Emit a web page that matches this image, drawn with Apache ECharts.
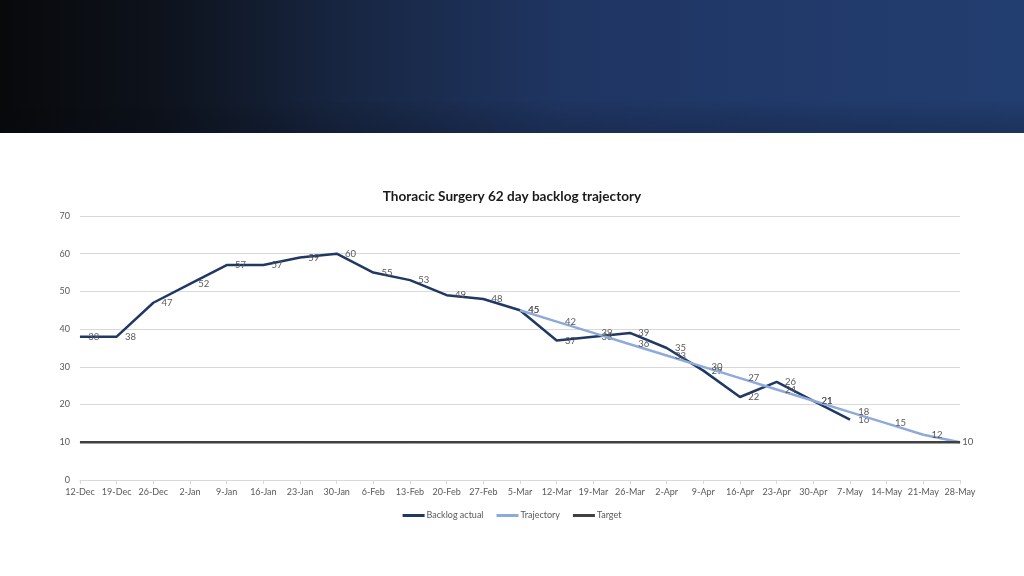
<!DOCTYPE html>
<html>
<head>
<meta charset="utf-8">
<script src="https://cdn.jsdelivr.net/npm/echarts@6/dist/echarts.min.js"></script>
<style>
html,body{margin:0;padding:0;background:#fff;}
#c{width:1024px;height:576px;}
</style>
</head>
<body>
<div id="c"></div>
<script>
const categories = ['12-Dec','19-Dec','26-Dec','2-Jan','9-Jan','16-Jan','23-Jan','30-Jan','6-Feb','13-Feb','20-Feb','27-Feb','5-Mar','12-Mar','19-Mar','26-Mar','2-Apr','9-Apr','16-Apr','23-Apr','30-Apr','7-May','14-May','21-May','28-May'];
const backlogActual = [38,38,47,52,57,57,59,60,55,53,49,48,45,37,38,39,35,29,22,26,21,16,null,null,null];
const trajectory = [null,null,null,null,null,null,null,null,null,null,null,null,45,42,39,36,33,30,27,24,21,18,15,12,10];
const target = [10,10,10,10,10,10,10,10,10,10,10,10,10,10,10,10,10,10,10,10,10,10,10,10,10];

const chart = echarts.init(document.getElementById('c'));
const font = 'Lato, "Open Sans", sans-serif';
const lbl = {show:true, position:'right', distance:8, fontSize:9.5, color:'#595959', fontFamily:font};
const lastIdx = target.length - 1;
chart.setOption({
  animation:false,
  backgroundColor:'#ffffff',
  graphic:[{
    type:'rect', left:0, top:0, z:-10,
    shape:{x:0,y:0,width:1024,height:133},
    style:{fill:new echarts.graphic.LinearGradient(0,0,1,0,[
      {offset:0,color:'#08090b'},
      {offset:0.15,color:'#0d121b'},
      {offset:0.33,color:'#172540'},
      {offset:0.55,color:'#1f3562'},
      {offset:0.85,color:'#213b6c'},
      {offset:1,color:'#223d6f'}
    ])}
  },{
    type:'rect', left:0, top:0, z:-9,
    shape:{x:0,y:0,width:1024,height:133},
    style:{fill:new echarts.graphic.LinearGradient(0,0,0,1,[
      {offset:0,color:'rgba(0,0,0,0)'},
      {offset:0.75,color:'rgba(0,0,0,0)'},
      {offset:1,color:'rgba(5,10,25,0.2)'}
    ])}
  }],
  title:{
    text:'Thoracic Surgery 62 day backlog trajectory',
    left:'center', top:185,
    textStyle:{fontSize:13.6, fontWeight:'bold', color:'#1a1a1a', fontFamily:font}
  },
  legend:{
    top:506, left:'center',
    icon:'rect', itemWidth:22, itemHeight:3, itemGap:13,
    textStyle:{fontSize:9, color:'#595959', fontFamily:font, padding:[0,0,0,-3]},
    data:['Backlog actual','Trajectory','Target']
  },
  grid:{left:80, right:64, top:216, bottom:96},
  xAxis:{
    type:'category', boundaryGap:false, data:categories,
    axisLine:{lineStyle:{color:'#d9d9d9'}},
    axisTick:{show:true, length:4, lineStyle:{color:'#d9d9d9'}},
    axisLabel:{fontSize:9, color:'#595959', fontFamily:font, margin:8, interval:0}
  },
  yAxis:{
    type:'value', min:0, max:70, interval:10,
    axisLine:{show:false}, axisTick:{show:false},
    splitLine:{lineStyle:{color:'#d9d9d9'}},
    axisLabel:{fontSize:9, color:'#595959', fontFamily:font, margin:10}
  },
  series:[
    {name:'Backlog actual', type:'line', data:backlogActual, symbol:'circle', symbolSize:0.5, showAllSymbol:true,
     lineStyle:{color:'#1f3864', width:2.5}, itemStyle:{color:'#1f3864'}, label:lbl, z:2},
    {name:'Trajectory', type:'line', symbol:'circle', symbolSize:0.5, showAllSymbol:true,
     data:trajectory.map((v,i)=> i===lastIdx ? {value:v, label:{show:false}} : v),
     lineStyle:{color:'#8eaadb', width:2.5}, itemStyle:{color:'#8eaadb'}, label:lbl, z:3},
    {name:'Target', type:'line', symbol:'circle', symbolSize:0.5, showAllSymbol:true,
     data:target.map((v,i)=> i===lastIdx ? {value:v, label:{show:true}} : v),
     lineStyle:{color:'#404040', width:2.5}, itemStyle:{color:'#404040'},
     label:{show:false, position:'right', distance:2, fontSize:9.5, color:'#595959', fontFamily:font}, z:4}
  ]
});
</script>
</body>
</html>
